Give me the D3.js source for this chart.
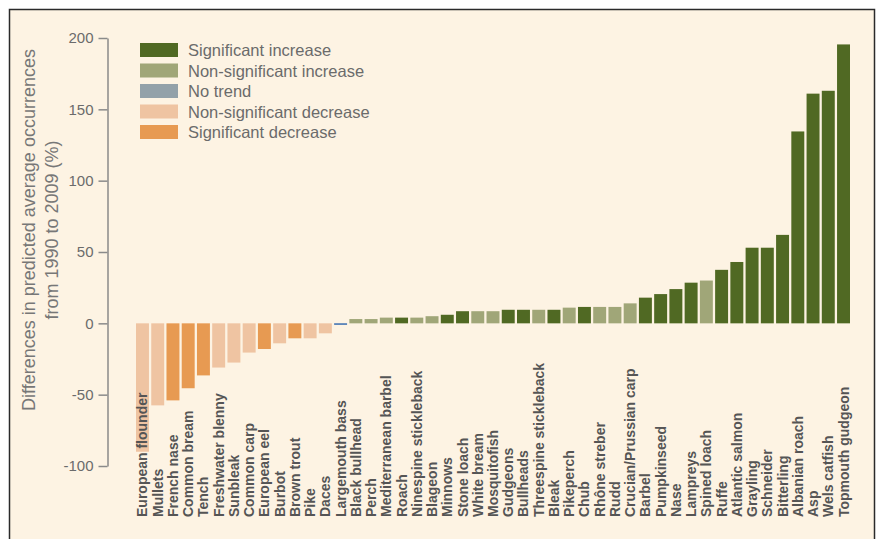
<!DOCTYPE html>
<html>
<head>
<meta charset="utf-8">
<script src="https://cdn.jsdelivr.net/npm/d3@7"></script>
<style>
  html, body { margin: 0; padding: 0; background: #ffffff; }
  svg { display: block; font-family: "Liberation Sans", Arial, sans-serif; }
</style>
</head>
<body>
<svg id="chart" width="881" height="539"></svg>
<script>
// species, ordered as in the figure
var species = [
  'European flounder', 'Mullets', 'French nase', 'Common bream', 'Tench',
  'Freshwater blenny', 'Sunbleak', 'Common carp', 'European eel', 'Burbot',
  'Brown trout', 'Pike', 'Daces', 'Largemouth bass', 'Black bullhead',
  'Perch', 'Mediterranean barbel', 'Roach', 'Ninespine stickleback', 'Blageon',
  'Minnows', 'Stone loach', 'White bream', 'Mosquitofish', 'Gudgeons',
  'Bullheads', 'Threespine stickleback', 'Bleak', 'Pikeperch', 'Chub',
  'Rhône streber', 'Rudd', 'Crucian/Prussian carp', 'Barbel', 'Pumpkinseed',
  'Nase', 'Lampreys', 'Spined loach', 'Ruffe', 'Atlantic salmon',
  'Grayling', 'Schneider', 'Bitterling', 'Albanian roach', 'Asp',
  'Wels catfish', 'Topmouth gudgeon'
];

// difference in predicted average occurrences 1990-2009 (%)
var change = [
  -90, -57.5, -54, -45.5, -36.5,
  -31, -27.5, -20.5, -18, -14,
  -10.5, -10.5, -7, -1, 3,
  3, 4, 4, 4, 5,
  6, 8.5, 8.5, 8.5, 9.5,
  9.5, 9.5, 9.5, 11, 11.5,
  11.5, 11.5, 14, 18, 20.5,
  24, 28.5, 30, 37.5, 43,
  53, 53, 62, 134.5, 161,
  163, 195.5
];

// trend class per species (index into trendNames)
var trend = [
  3, 3, 4, 4, 4,
  3, 3, 3, 4, 3,
  4, 3, 3, 2, 1,
  1, 1, 0, 1, 1,
  0, 0, 1, 1, 0,
  0, 1, 0, 1, 0,
  1, 1, 1, 0, 0,
  0, 0, 1, 0, 0,
  0, 0, 0, 0, 0,
  0, 0
];

var trendNames = ['Significant increase', 'Non-significant increase', 'No trend',
                  'Non-significant decrease', 'Significant decrease'];
var trendColors = ['#506923', '#a0a678', '#93a1a9', '#efc4a2', '#e79a52'];
var yTicks = [-100, -50, 0, 50, 100, 150, 200];

var data = species.map(function(s, i) {
  return { name: s, value: change[i], trend: trend[i] };
});

var svg = d3.select('#chart');

// panel
svg.append('rect')
  .attr('x', 9.5).attr('y', 9.5)
  .attr('width', 865).attr('height', 540)
  .attr('fill', '#fdf3e3')
  .attr('stroke', '#2a2a2a')
  .attr('stroke-width', 1.5);

var xScale = d3.scaleBand()
  .domain(species)
  .range([136, 850])
  .paddingInner(0.15)
  .paddingOuter(0);

var yScale = d3.scaleLinear()
  .domain([-100, 200])
  .range([466, 38]);

var color = d3.scaleOrdinal().domain(d3.range(5)).range(trendColors);

// bars
svg.append('g').selectAll('rect')
  .data(data)
  .enter().append('rect')
  .attr('x', function(d) { return xScale(d.name); })
  .attr('width', xScale.bandwidth())
  .attr('y', function(d) { return yScale(Math.max(0, d.value)); })
  .attr('height', function(d) { return Math.max(1, Math.abs(yScale(d.value) - yScale(0))); })
  .attr('fill', function(d) { return d.trend === 2 ? '#2f66ad' : color(d.trend); });

// category labels
svg.append('g').selectAll('text')
  .data(data)
  .enter().append('text')
  .attr('transform', function(d) {
    return 'translate(' + (xScale(d.name) + xScale.bandwidth() / 2 + 5) + ',517) rotate(-90)';
  })
  .attr('text-anchor', 'start')
  .attr('font-size', 14)
  .attr('font-weight', 'bold')
  .attr('fill', '#555555')
  .text(function(d) { return d.name; });

// y axis
var yAxis = d3.axisLeft(yScale)
  .tickValues(yTicks)
  .tickFormat(function(d) { return String(d); })
  .tickSize(9)
  .tickPadding(5)
  .tickSizeOuter(0);

var gy = svg.append('g')
  .attr('transform', 'translate(107.5,0)')
  .call(yAxis);
gy.select('.domain').attr('stroke', '#8a8a8a').attr('stroke-width', 1.5);
gy.selectAll('.tick line').attr('stroke', '#8a8a8a').attr('stroke-width', 1.5);
gy.selectAll('.tick text')
  .attr('fill', '#6b6b6b')
  .attr('font-size', 15)
  .attr('font-family', '"Liberation Sans", Arial, sans-serif');

// y axis title
var title = svg.append('text')
  .attr('transform', 'translate(0,230) rotate(-90)')
  .attr('text-anchor', 'middle')
  .attr('fill', '#777777')
  .attr('font-size', 18);
title.append('tspan').attr('x', 0).attr('y', 35).text('Differences in predicted average occurrences');
title.append('tspan').attr('x', 0).attr('y', 58).text('from 1990 to 2009 (%)');

// legend
var legend = svg.append('g').attr('transform', 'translate(140,43)');
var rows = legend.selectAll('g')
  .data(trendNames)
  .enter().append('g')
  .attr('transform', function(d, i) { return 'translate(0,' + (i * 20.5) + ')'; });
rows.append('rect')
  .attr('width', 38).attr('height', 14)
  .attr('fill', function(d, i) { return trendColors[i]; });
rows.append('text')
  .attr('x', 48).attr('y', 13)
  .attr('fill', '#6b6b6b')
  .attr('font-size', 16.5)
  .text(function(d) { return d; });
</script>
</body>
</html>
